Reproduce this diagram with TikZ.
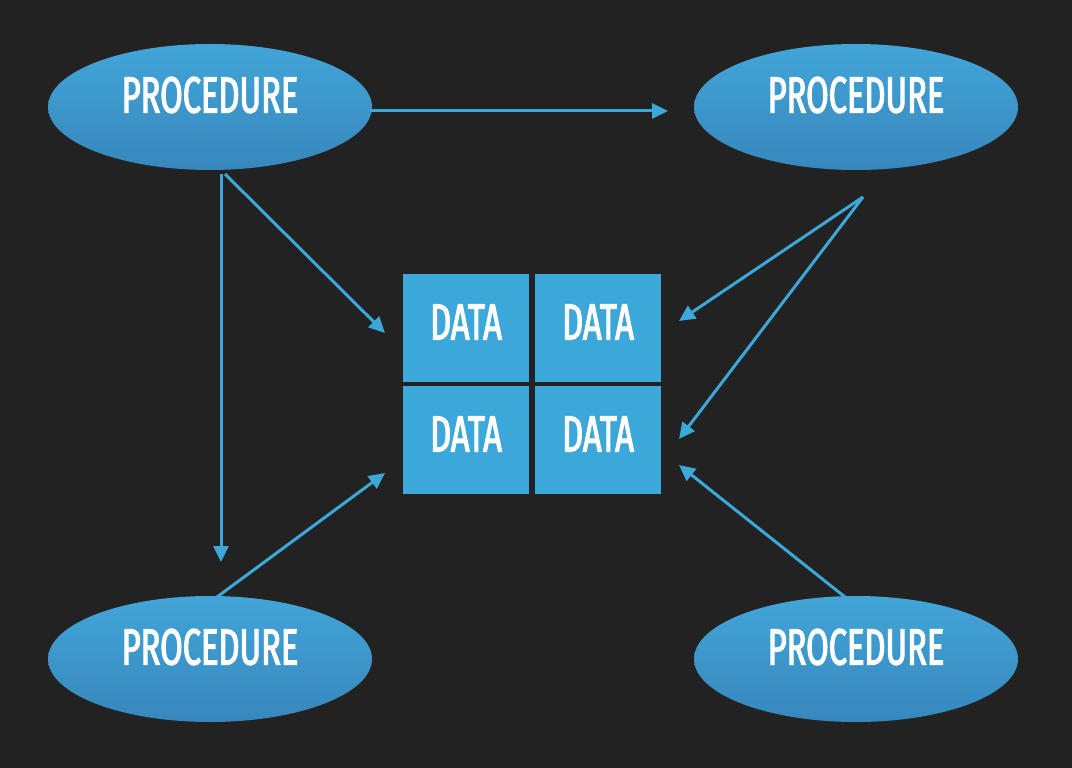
\documentclass[tikz,border=0pt]{standalone}
\usepackage{fontspec}
\newfontfamily\condfont[FakeStretch=0.64,FakeBold=2.2]{Fira Sans}
\usetikzlibrary{shapes.geometric,arrows.meta}
\definecolor{bg}{HTML}{222222}
\definecolor{dblue}{HTML}{3CA7D9}
\definecolor{etop}{HTML}{42A5D8}
\definecolor{ebot}{HTML}{3787BC}
\begin{document}
\begin{tikzpicture}[x=1pt,y=-1pt,
  proc/.style={ellipse,minimum width=324pt,minimum height=126pt,inner sep=0pt,
    top color=etop,bottom color=ebot,draw=none},
  ptext/.style={text=white,font=\condfont\fontsize{51}{51}\selectfont,anchor=center,inner sep=0pt},
  databox/.style={rectangle,fill=dblue,minimum width=126pt,minimum height=108pt,inner sep=0pt,draw=none},
  conn/.style={draw=dblue,line width=3pt,-{Triangle[length=16pt,width=15pt]}},
  plain/.style={draw=dblue,line width=3pt}]
\fill[bg] (0,0) rectangle (1072,768);
\useasboundingbox (0,0) rectangle (1072,768);
\node[proc] (p1) at (210,107) {};
\node[proc] (p2) at (856,107) {};
\node[proc] (p3) at (210,659) {};
\node[proc] (p4) at (856,659) {};
\node[ptext] (t1) at (210,95) {PROCEDURE};
\node[ptext] (t2) at (856,95) {PROCEDURE};
\node[ptext] (t3) at (210,647) {PROCEDURE};
\node[ptext] (t4) at (856,647) {PROCEDURE};
\node[databox] (d1) at (466,328) {};
\node[databox] (d2) at (598,328) {};
\node[databox] (d3) at (466,440) {};
\node[databox] (d4) at (598,440) {};
\node[ptext] (dt1) at (466,322) {DATA};
\node[ptext] (dt2) at (598,322) {DATA};
\node[ptext] (dt3) at (466,434) {DATA};
\node[ptext] (dt4) at (598,434) {DATA};
% endpoints
\coordinate (a1s) at (370,111);
\coordinate (a1e) at (668,111);
\coordinate (a2s) at (221,174);
\coordinate (a2e) at (221,562);
\coordinate (a3s) at (225,174);
\coordinate (a3e) at (385,333);
\coordinate (a4s) at (863,197);
\coordinate (a4e) at (679,321);
\coordinate (a5e) at (679,439);
\coordinate (a6s) at (217,597);
\coordinate (a6e) at (385,473);
\coordinate (a7s) at (845,597);
\coordinate (a7e) at (679,465);
\draw[conn] (a1s) -- (a1e);
\draw[conn] (a2s) -- (a2e);
\draw[conn] (a3s) -- (a3e);
\draw[conn] (a4s) -- (a4e);
\draw[conn] (a4s) -- (a5e);
\draw[conn] (a6s) -- (a6e);
\draw[conn] (a7s) -- (a7e);
\end{tikzpicture}
\end{document}
